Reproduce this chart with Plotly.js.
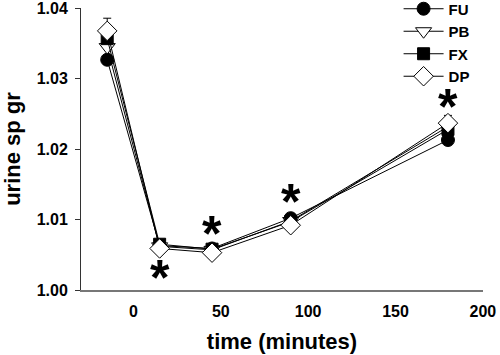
<!DOCTYPE html>
<html>
<head>
<meta charset="utf-8">
<script src="https://cdn.plot.ly/plotly-3.0.1.min.js"></script>
<style>html,body{margin:0;padding:0;background:#fff;}#chart{width:500px;height:355px;}</style>
</head>
<body>
<div id="chart"></div>
<script>
var timeMin = [-15, 15, 45, 90, 180];
var seriesNames = ["FU", "PB", "FX", "DP"];
var fuValues = [1.0327, 1.0063, 1.0059, 1.0102, 1.0213];
var pbValues = [1.0345, 1.0062, 1.0057, 1.0098, 1.0232];
var fxValues = [1.0357, 1.0065, 1.0058, 1.0097, 1.0228];
var dpValues = [1.0368, 1.0059, 1.0053, 1.0092, 1.0237];
var dpErrUp = [0.0018, 0, 0, 0, 0.0011];
var starTimes = [15, 45, 90, 180];
var starValues = [1.0026, 1.0088, 1.0134, 1.0268];
var xTicks = [0, 50, 100, 150, 200];
var yTicks = [1.00, 1.01, 1.02, 1.03, 1.04];

var F = "Liberation Sans, Arial, sans-serif";
var styles = [
  {symbol: "circle", color: "#000", size: 13},
  {symbol: "triangle-down", color: "#fff", size: 14},
  {symbol: "square", color: "#000", size: 12},
  {symbol: "diamond", color: "#fff", size: 15}
];
var vals = [fuValues, pbValues, fxValues, dpValues];
var traces = vals.map(function(v, i){
  var t = {
    x: timeMin, y: v, name: seriesNames[i], type: "scatter", mode: "lines+markers",
    line: {color: "#000", width: 1},
    marker: {symbol: styles[i].symbol, color: styles[i].color, size: styles[i].size,
             line: {color: "#000", width: 1}}
  };
  if (i === 3) {
    t.error_y = {type: "data", symmetric: false, array: dpErrUp, arrayminus: [0,0,0,0,0],
                 color: "#000", thickness: 1, width: 4};
  }
  return t;
});

var starAnnotations = starTimes.map(function(t, i){
  return {x: t, y: starValues[i], xref: "x", yref: "y", text: "*", showarrow: false,
          xanchor: "center", yanchor: "middle", yshift: -6,
          font: {family: F, size: 50, color: "#000", weight: "bold"}};
});

var layout = {
  width: 500, height: 355,
  margin: {l: 81, r: 17, t: 8, b: 65, autoexpand: false},
  paper_bgcolor: "#fff", plot_bgcolor: "#fff",
  showlegend: true,
  annotations: starAnnotations,
  legend: {x: 0.79, y: 1.055, xanchor: "left", yanchor: "top", bgcolor: "rgba(0,0,0,0)",
           font: {family: F, size: 15, color: "#000", weight: "bold"}, itemwidth: 40, tracegroupgap: 0},
  xaxis: {
    range: [-30, 200.05], tickvals: xTicks, ticktext: xTicks.map(String), automargin: false,
    ticklabeloverflow: "allow",
    showline: true, linecolor: "#777", linewidth: 2, showgrid: false, zeroline: false,
    ticks: "", ticklabelstandoff: 6, tickfont: {family: F, size: 16, color: "#000", weight: "bold"},
    title: {text: "time (minutes)", font: {family: F, size: 22, color: "#000", weight: "bold"}, standoff: 14}
  },
  yaxis: {
    range: [1.00, 1.04005], tickvals: yTicks, ticktext: yTicks.map(function(v){return v.toFixed(2);}), automargin: false,
    ticklabeloverflow: "allow",
    showline: true, linecolor: "#333", linewidth: 1, showgrid: false, zeroline: false,
    ticks: "outside", ticklen: 5, tickcolor: "#333", ticklabelstandoff: 4,
    tickfont: {family: F, size: 16, color: "#000", weight: "bold"},
    title: {text: "urine sp gr", font: {family: F, size: 22, color: "#000", weight: "bold"}, standoff: 10}
  }
};
Plotly.newPlot("chart", traces, layout, {staticPlot: true, displayModeBar: false});
</script>
</body>
</html>
